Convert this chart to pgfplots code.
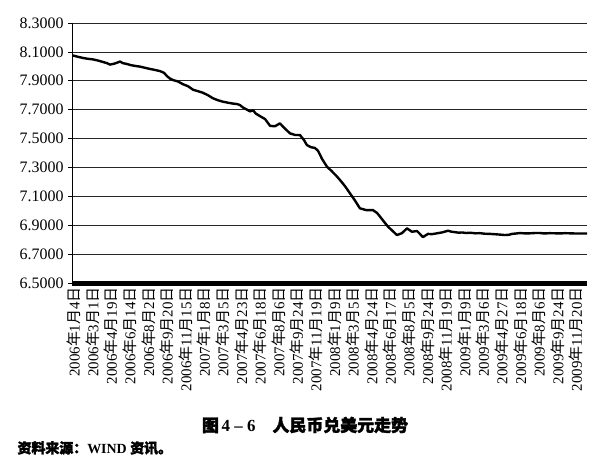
\documentclass[border=0pt]{standalone}
\usepackage{pgfplots}
\pgfplotsset{compat=1.18}
\usepackage{fontspec}
\setmainfont{Liberation Serif}
\newfontfamily\cjk{Noto Sans CJK SC}
\newfontfamily\cjkb[FakeBold=2]{Noto Sans CJK SC}
\newcommand\dt[3]{#1{\cjk 年}#2{\cjk 月}#3{\cjk 日}}

\begin{document}
\begin{tikzpicture}
\begin{axis}[
  name=main,
  scale only axis,
  width=515bp, height=260bp,
  xmin=0, xmax=27.69,
  ymin=6.5, ymax=8.3,
  axis lines*=left,
  axis line style={black, line width=0.8pt},
  x axis line style={line width=5bp},
  ytick={6.5,6.7,...,8.31},
  ymajorgrids,
  major grid style={black!85, line width=0.7pt},
  y tick style={black, line width=0.7pt},
  tick align=outside,
  major tick length=4bp,
  xtick={0,...,27},
  x tick style={draw=none},
  xticklabels={
    \dt{2006}{1}{4},\dt{2006}{3}{1},\dt{2006}{4}{19},\dt{2006}{6}{14},
    \dt{2006}{8}{2},\dt{2006}{9}{20},\dt{2006}{11}{15},\dt{2007}{1}{8},
    \dt{2007}{3}{5},\dt{2007}{4}{23},\dt{2007}{6}{18},\dt{2007}{8}{6},
    \dt{2007}{9}{24},\dt{2007}{11}{19},\dt{2008}{1}{9},\dt{2008}{3}{5},
    \dt{2008}{4}{24},\dt{2008}{6}{17},\dt{2008}{8}{5},\dt{2008}{9}{24},
    \dt{2008}{11}{19},\dt{2009}{1}{9},\dt{2009}{3}{6},\dt{2009}{4}{27},
    \dt{2009}{6}{18},\dt{2009}{8}{6},\dt{2009}{9}{24},\dt{2009}{11}{20}},
  xticklabel style={rotate=90, anchor=east, font=\fontsize{15}{16}\selectfont, inner sep=0pt, yshift=-2bp},
  yticklabel style={/pgf/number format/.cd, fixed, fixed zerofill, precision=4, /tikz/.cd,
    font=\fontsize{16}{18}\selectfont, xshift=-1bp},
  /pgf/number format/assume math mode=true,
  clip=false,
]
\addplot[black, line width=2.4bp, line join=round] coordinates {
(0.05,8.075)(0.32,8.066)(0.59,8.058)(0.86,8.052)(1.13,8.048)(1.40,8.040)
(1.67,8.030)(1.88,8.022)(2.04,8.012)(2.26,8.018)(2.42,8.025)(2.58,8.033)
(2.74,8.022)(2.96,8.016)(3.17,8.008)(3.44,8.002)(3.66,7.998)(3.92,7.990)
(4.19,7.982)(4.46,7.975)(4.73,7.967)(4.95,7.955)(5.11,7.932)(5.27,7.915)
(5.43,7.905)(5.70,7.895)(5.97,7.876)(6.24,7.862)(6.51,7.838)(6.77,7.828)
(7.04,7.817)(7.31,7.800)(7.58,7.779)(7.85,7.765)(8.12,7.755)(8.39,7.748)
(8.66,7.742)(8.87,7.739)(9.03,7.732)(9.19,7.715)(9.41,7.700)(9.57,7.688)
(9.73,7.696)(9.89,7.672)(10.11,7.655)(10.38,7.635)(10.65,7.588)(10.91,7.585)
(11.18,7.605)(11.40,7.575)(11.72,7.536)(11.99,7.525)(12.26,7.524)(12.47,7.490)
(12.63,7.455)(12.85,7.440)(13.06,7.435)(13.23,7.415)(13.44,7.360)(13.71,7.305)
(13.92,7.280)(14.19,7.245)(14.41,7.213)(14.68,7.170)(14.95,7.120)(15.22,7.070)
(15.48,7.017)(15.81,7.005)(16.18,7.005)(16.40,6.985)(16.56,6.960)(16.77,6.925)
(16.99,6.890)(17.20,6.865)(17.47,6.832)(17.74,6.845)(18.01,6.878)(18.28,6.855)
(18.55,6.860)(18.87,6.818)(19.14,6.840)(19.35,6.838)(19.62,6.844)(19.89,6.850)
(20.22,6.862)(20.40,6.855)(20.59,6.852)(20.80,6.848)(20.97,6.850)(21.20,6.846)
(21.40,6.848)(21.70,6.844)(21.94,6.845)(22.20,6.841)(22.47,6.840)(22.70,6.838)
(23.01,6.835)(23.28,6.832)(23.50,6.834)(23.66,6.840)(23.90,6.843)(24.09,6.846)
(24.40,6.843)(24.62,6.844)(24.90,6.846)(25.16,6.846)(25.40,6.843)(25.70,6.845)
(26.00,6.844)(26.24,6.843)(26.50,6.845)(26.77,6.844)(27.00,6.843)(27.31,6.843)
(27.69,6.843)};
\end{axis}
\node[font=\fontsize{17}{19}\selectfont\bfseries] at ([xshift=233bp,yshift=-142bp]main.south west)
  {{\cjkb 图}\,4 -- 6\hspace{1em}{\cjkb 人民币兑美元走势}};
\node[anchor=west, font=\fontsize{14}{16}\selectfont\bfseries] at ([xshift=-58bp,yshift=-165bp]main.south west)
  {{\cjkb 资料来源：}WIND {\cjkb 资讯。}};
\pgfresetboundingbox
\path ([xshift=-72bp,yshift=-183bp]main.south west) rectangle ++(611bp,466bp);
\end{tikzpicture}
\end{document}
